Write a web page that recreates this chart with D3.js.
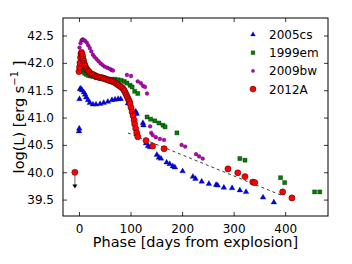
<!DOCTYPE html>
<html>
<head>
<meta charset="utf-8">
<script src="https://cdn.jsdelivr.net/npm/d3@7"></script>
<style>
  body { margin: 0; background: #fff; }
  text { font-family: "DejaVu Sans", sans-serif; }
</style>
</head>
<body>
<div id="chart"></div>
<script>
// phase [days], log(L)
const cs05Phase = [0, 0.5, 1, 2, 3.5, 6, 9.5, 12, 14, 17.5, 21, 27, 33, 41, 48, 56, 64, 70, 76, 81, 95, 110, 112, 124, 125, 130, 134, 138, 151, 155, 159, 170, 176, 182, 186, 201, 221, 226, 238, 252, 266, 269, 281, 297, 312, 324, 357, 378];
const cs05L = [40.74, 40.79, 41.33, 41.51, 41.52, 41.49, 41.45, 41.41, 41.36, 41.31, 41.26, 41.23, 41.23, 41.24, 41.26, 41.28, 41.31, 41.32, 41.33, 41.33, 41.25, 41.1, 41.06, 40.89, 40.85, 40.52, 40.47, 40.45, 40.31, 40.26, 40.24, 40.17, 40.14, 40.10, 40.08, 40.01, 39.91, 39.87, 39.82, 39.78, 39.76, 39.75, 39.71, 39.70, 39.66, 39.63, 39.53, 39.44];

const em99Phase = [1, 2, 4, 6, 8, 11, 14, 18, 22, 27, 33, 40, 46, 52, 58, 64, 70, 76, 82, 88, 93, 99, 103, 108, 114, 132, 139, 147, 155, 163, 167, 190, 312, 322, 391, 399, 457, 467];
const em99L = [41.95, 41.92, 41.89, 41.86, 41.84, 41.81, 41.79, 41.77, 41.76, 41.75, 41.73, 41.72, 41.71, 41.71, 41.70, 41.70, 41.70, 41.69, 41.68, 41.66, 41.63, 41.59, 41.56, 41.48, 41.44, 41.01, 40.97, 40.94, 40.90, 40.86, 40.83, 40.72, 40.25, 40.22, 39.90, 39.81, 39.64, 39.64];

const bw09Phase = [1, 3, 5, 7, 9, 12, 15, 18, 21, 24, 27, 30, 34, 38, 42, 46, 50, 55, 60, 63, 66, 93, 101, 114, 120, 124, 128, 132, 138, 140, 143, 149, 157, 165, 199, 206, 227, 233, 240];
const bw09L = [42.28, 42.36, 42.41, 42.43, 42.42, 42.40, 42.37, 42.32, 42.27, 42.21, 42.15, 42.11, 42.07, 42.03, 41.99, 41.96, 41.93, 41.91, 41.89, 41.87, 41.86, 41.78, 41.76, 41.66, 41.63, 41.58, 41.56, 41.44, 40.84, 40.72, 40.68, 40.64, 40.61, 40.59, 40.50, 40.47, 40.33, 40.29, 40.25];

const a12Phase = [0, 1, 2, 3, 4, 5, 6, 7, 8, 9, 10, 11, 12, 14, 16, 18, 20, 23, 26, 29, 32, 35, 38, 41, 44, 47, 50, 53, 56, 59, 62, 65, 68, 71, 74, 77, 80, 83, 86, 88, 90, 92, 94, 96, 98, 99, 101, 103, 105, 107, 108, 110, 112, 114, 130, 143, 165, 289, 308, 322, 337, 341, 395, 413];
const a12L = [41.84, 41.92, 42.00, 42.10, 42.17, 42.19, 42.16, 42.12, 42.07, 42.03, 41.99, 41.96, 41.94, 41.90, 41.87, 41.85, 41.83, 41.80, 41.79, 41.78, 41.76, 41.75, 41.74, 41.73, 41.73, 41.72, 41.71, 41.70, 41.69, 41.68, 41.67, 41.66, 41.65, 41.63, 41.61, 41.59, 41.57, 41.55, 41.52, 41.49, 41.45, 41.41, 41.37, 41.33, 41.29, 41.25, 41.18, 41.10, 41.03, 40.95, 40.88, 40.80, 40.72, 40.65, 40.58, 40.48, 40.43, 40.06, 39.99, 39.92, 39.82, 39.81, 39.64, 39.53];

// pre-explosion upper limit for 2012A
const limPhase = [-8];
const limL = [40.0];
const limTo = [39.72];

// 56Co decay line endpoints
const coPhase = [95, 395];
const coL = [40.72, 39.57];

const xTicks = [0, 100, 200, 300, 400];
const yTicks = [39.5, 40.0, 40.5, 41.0, 41.5, 42.0, 42.5];
const names = ["2005cs", "1999em", "2009bw", "2012A"];

const W = 352, H = 264;
const margin = {top: 18, right: 24, bottom: 48, left: 63};
const width = W - margin.left - margin.right,
      height = H - margin.top - margin.bottom;

const svg = d3.select("#chart").append("svg")
    .attr("width", W).attr("height", H);

const g = svg.append("g").attr("transform", `translate(${margin.left},${margin.top})`);

const x = d3.scaleLinear().domain([-31, 483]).range([0, width]);
const y = d3.scaleLinear().domain([39.2, 42.82]).range([height, 0]);

// axes, ticks inward on all four sides
function styleAxis(sel) {
    sel.select(".domain").remove();
    sel.selectAll(".tick line").attr("stroke", "#000").attr("stroke-width", 0.8);
    sel.selectAll(".tick text").style("font-size", "12px").attr("fill", "#000");
}
g.append("g").attr("transform", `translate(0,${height})`)
    .call(d3.axisBottom(x).tickValues(xTicks).tickSize(-4).tickPadding(8).tickFormat(d3.format("d")))
    .call(styleAxis);
g.append("g")
    .call(d3.axisTop(x).tickValues(xTicks).tickSize(-4).tickFormat(""))
    .call(styleAxis);
g.append("g")
    .call(d3.axisLeft(y).tickValues(yTicks).tickSize(-4).tickPadding(9).tickFormat(d3.format(".1f")))
    .call(styleAxis);
g.append("g").attr("transform", `translate(${width},0)`)
    .call(d3.axisRight(y).tickValues(yTicks).tickSize(-4).tickFormat(""))
    .call(styleAxis);

const plot = g.append("g");

// Co decay dashed line
plot.append("line")
    .attr("x1", x(coPhase[0])).attr("y1", y(coL[0]))
    .attr("x2", x(coPhase[1])).attr("y2", y(coL[1]))
    .attr("stroke", "#222").attr("stroke-width", 0.9)
    .attr("stroke-dasharray", "3,3");

const tri = d3.symbol().type(d3.symbolTriangle).size(14);
const sq = d3.symbol().type(d3.symbolSquare).size(17);

// 2005cs
plot.selectAll(".cs").data(cs05Phase).enter().append("path")
    .attr("d", tri)
    .attr("transform", (d, i) => `translate(${x(d)},${y(cs05L[i]) - 0.5})`)
    .attr("fill", "#0000ff").attr("stroke", "#000").attr("stroke-width", 0.3);

// 1999em
plot.selectAll(".em").data(em99Phase).enter().append("path")
    .attr("d", sq)
    .attr("transform", (d, i) => `translate(${x(d)},${y(em99L[i])})`)
    .attr("fill", "#008000").attr("stroke", "#000").attr("stroke-width", 0.3);

// 2009bw
plot.selectAll(".bw").data(bw09Phase).enter().append("circle")
    .attr("cx", d => x(d))
    .attr("cy", (d, i) => y(bw09L[i]))
    .attr("r", 1.9)
    .attr("fill", "#bf00bf").attr("stroke", "#000").attr("stroke-width", 0.3);

// 2012A
plot.selectAll(".a12").data(a12Phase).enter().append("circle")
    .attr("cx", d => x(d))
    .attr("cy", (d, i) => y(a12L[i]))
    .attr("r", 3.1)
    .attr("fill", "#ff0000").attr("stroke", "#000").attr("stroke-width", 0.4);

// upper limit
limPhase.forEach(function(p, i) {
    plot.append("line")
        .attr("x1", x(p)).attr("x2", x(p))
        .attr("y1", y(limL[i])).attr("y2", y(limTo[i]) - 2)
        .attr("stroke", "#999").attr("stroke-width", 1.5);
    plot.append("path")
        .attr("d", `M${x(p) - 2.5},${y(limTo[i]) - 3} L${x(p) + 2.5},${y(limTo[i]) - 3} L${x(p)},${y(limTo[i]) + 1} Z`)
        .attr("fill", "#000");
    plot.append("circle")
        .attr("cx", x(p)).attr("cy", y(limL[i])).attr("r", 3.1)
        .attr("fill", "#ff0000").attr("stroke", "#000").attr("stroke-width", 0.4);
});

// frame
g.append("rect")
    .attr("width", width).attr("height", height)
    .attr("fill", "none").attr("stroke", "#000").attr("stroke-width", 1);

// legend (no frame)
const leg = svg.append("g").attr("transform", "translate(253,34.5)");
names.forEach(function(n, i) {
    const row = leg.append("g").attr("transform", `translate(0,${i * 18.2})`);
    if (i === 0) row.append("path").attr("d", d3.symbol().type(d3.symbolTriangle).size(10)).attr("fill", "#0000ff").attr("stroke", "#000").attr("stroke-width", 0.3);
    if (i === 1) row.append("path").attr("d", d3.symbol().type(d3.symbolSquare).size(14)).attr("fill", "#008000").attr("stroke", "#000").attr("stroke-width", 0.3);
    if (i === 2) row.append("circle").attr("r", 1.6).attr("fill", "#bf00bf").attr("stroke", "#000").attr("stroke-width", 0.3);
    if (i === 3) row.append("circle").attr("r", 3).attr("fill", "#ff0000").attr("stroke", "#000").attr("stroke-width", 0.4);
    row.append("text").attr("x", 16).attr("y", 4.4)
        .style("font-size", "12px").text(n);
});

// axis labels
svg.append("text")
    .attr("x", margin.left + width / 2).attr("y", 247)
    .attr("text-anchor", "middle")
    .style("font-size", "14.5px")
    .text("Phase [days from explosion]");

const yl = svg.append("text")
    .attr("transform", `translate(24,${margin.top + height / 2}) rotate(-90)`)
    .attr("text-anchor", "middle")
    .style("font-size", "14.5px");
yl.append("tspan").text("log(L) [erg s");
yl.append("tspan").attr("dy", -6).style("font-size", "10px").text("\u22121");
yl.append("tspan").attr("dy", 6).text(" ]");
</script>
</body>
</html>
